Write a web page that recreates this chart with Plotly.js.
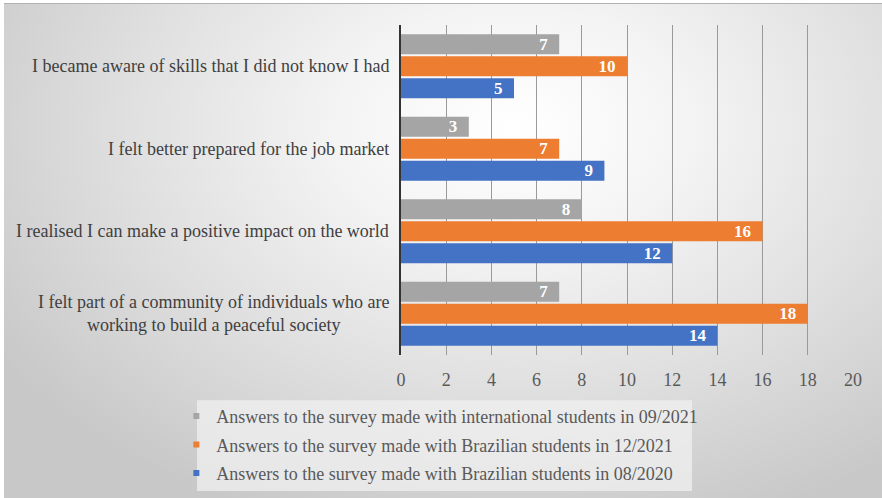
<!DOCTYPE html>
<html>
<head>
<meta charset="utf-8">
<script src="https://cdn.plot.ly/plotly-3.0.1.min.js"></script>
<style>
html,body{margin:0;padding:0;background:#ffffff;}
body{width:882px;height:498px;overflow:hidden;position:relative;}
#bg{position:absolute;left:4px;top:3px;width:878px;height:494px;border-top:1px solid #b2b2b2;
background:radial-gradient(ellipse 70% 85% at 58% 25%, #ffffff 0%, #f4f4f4 28%, #e0e0e0 62%, #c8c8c8 100%);}
#chart{position:absolute;left:0;top:0;width:882px;height:498px;}
</style>
</head>
<body>
<div id="bg"></div>
<div id="chart"></div>
<script>
const categories = [
  "I became aware of skills that I did not know I had",
  "I felt better prepared for the job market",
  "I realised I can make a positive impact on the world",
  "I felt part of a community of individuals who are<br>working to build a peaceful society"
];
const seriesNames = [
  "Answers to the survey made with international students in 09/2021",
  "Answers to the survey made with Brazilian students in 12/2021",
  "Answers to the survey made with Brazilian students in 08/2020"
];
const intl2021 = [7, 3, 8, 7];
const brazil2021 = [10, 7, 16, 18];
const brazil2020 = [5, 9, 12, 14];
const xTicks = [0, 2, 4, 6, 8, 10, 12, 14, 16, 18, 20];

const colors = ["#a5a5a5", "#ed7d31", "#4472c4"];
const values = [intl2021, brazil2021, brazil2020];
const serif = "Liberation Serif";

const traces = [];
values.forEach((v, i) => {
  traces.push({
    type: "bar", orientation: "h",
    x: v, y: categories,
    name: seriesNames[i],
    marker: {color: colors[i], line: {width: 0}},
    texttemplate: "%{x}\u2002",
    textposition: "inside",
    insidetextanchor: "end",
    textangle: 0,
    constraintext: "none",
    textfont: {family: serif, size: 17, color: "#ffffff", weight: "bold"},
    showlegend: false,
    hoverinfo: "x+y"
  });
});
values.forEach((v, i) => {
  traces.push({
    type: "scatter", mode: "markers",
    x: [null], y: [null],
    name: seriesNames[i],
    legendgroup: "g" + i,
    marker: {color: colors[i], symbol: "square", size: 6},
    showlegend: true,
    hoverinfo: "skip"
  });
});

const annotations = categories.map(c => ({
  xref: "paper", yref: "y",
  x: 0, y: c,
  text: c,
  showarrow: false,
  xanchor: "right", yanchor: "middle",
  align: "center",
  xshift: -10,
  font: {family: serif, size: 18, color: "#404040"}
}));

const layout = {
  width: 882, height: 498,
  font: {family: serif},
  margin: {l: 401, r: 29, t: 25, b: 143, autoexpand: false},
  paper_bgcolor: "rgba(0,0,0,0)",
  plot_bgcolor: "rgba(0,0,0,0)",
  barmode: "group",
  bargap: 0.2,
  bargroupgap: 0.09,
  xaxis: {
    range: [0, 20],
    tickvals: xTicks,
    ticktext: xTicks.map(String),
    showgrid: true, gridcolor: "#9a9a9a", gridwidth: 1,
    zeroline: false,
    showline: false,
    ticks: "",
    ticklabelstandoff: 12,
    tickfont: {family: serif, size: 18, color: "#595959"},
    fixedrange: true
  },
  yaxis: {
    type: "category",
    categoryorder: "array", categoryarray: categories,
    autorange: "reversed",
    showticklabels: false,
    showgrid: false,
    showline: true, linecolor: "#333333", linewidth: 2,
    ticks: "",
    fixedrange: true
  },
  legend: {
    x: -0.497, xanchor: "left",
    y: -0.13, yanchor: "top",
    bgcolor: "rgba(0,0,0,0)",
    borderwidth: 0,
    font: {family: serif, size: 18, color: "#595959"},
    itemwidth: 30,
    tracegroupgap: 2
  },
  shapes: [{
    type: "rect", xref: "paper", yref: "paper",
    x0: -0.4513, x1: 0.6438, y0: -0.412, y1: -0.1368,
    fillcolor: "rgba(240,240,240,0.75)", line: {width: 0}, layer: "below"
  }],
  annotations: annotations,
  showlegend: true
};

Plotly.newPlot("chart", traces, layout, {displayModeBar: false, staticPlot: true});
</script>
</body>
</html>
